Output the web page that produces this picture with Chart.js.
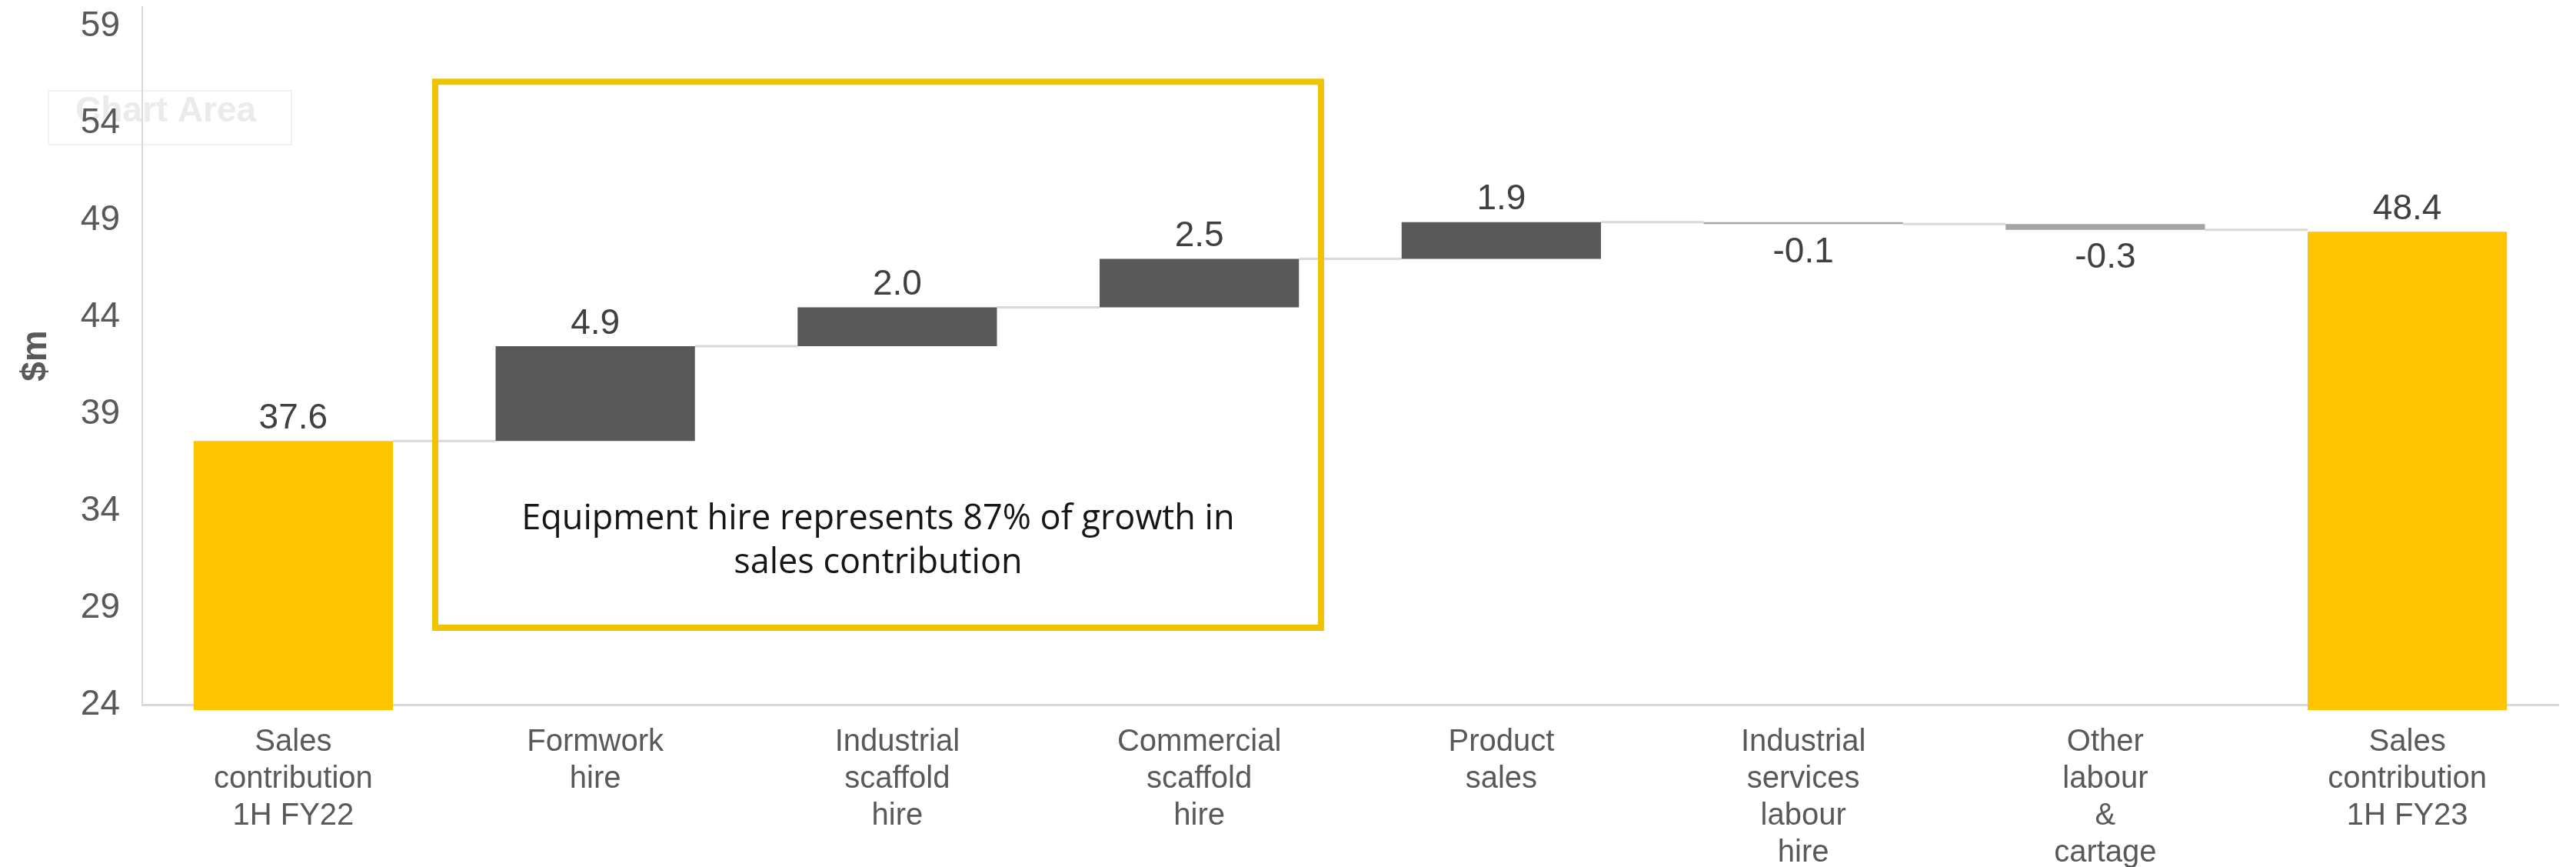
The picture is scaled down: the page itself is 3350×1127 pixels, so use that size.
<!DOCTYPE html>
<html>
<head>
<meta charset="utf-8">
<script src="https://cdn.jsdelivr.net/npm/chart.js@4/dist/chart.umd.min.js"></script>
<style>
  html, body { margin: 0; padding: 0; background: #fff; }
  #bridgeChart { display: block; }
</style>
</head>
<body>
<canvas id="bridgeChart" width="3350" height="1127"></canvas>
<script>
// sales contribution bridge, $m
const categories = [
    ["Sales", "contribution", "1H FY22"],
    ["Formwork", "hire"],
    ["Industrial", "scaffold", "hire"],
    ["Commercial", "scaffold", "hire"],
    ["Product", "sales"],
    ["Industrial", "services", "labour", "hire"],
    ["Other", "labour", "&", "cartage"],
    ["Sales", "contribution", "1H FY23"]
];
const changes = [37.6, 4.9, 2.0, 2.5, 1.9, -0.1, -0.3, 48.4];
const barKinds = ["total", "step", "step", "step", "step", "step", "step", "total"];
const yTickValues = [24, 29, 34, 39, 44, 49, 54, 59];
const yMin = 24;
const yMax = 60;

const noteLines = ["Equipment hire represents 87% of growth in", "sales contribution"];

const COLORS = {
    total: "#FFC600",
    rise: "#595959",
    fall: "#A5A5A5",
    connector: "#D9D9D9",
    axisText: "#595959",
    valueText: "#404040",
    box: "#F0C300"
};

function buildBridge() {
    const ranges = [];
    const levels = [];
    let level = 0;
    changes.forEach((v, i) => {
        if (barKinds[i] === "total") {
            ranges.push([0, v]);
            level = v;
        } else {
            const next = Math.round((level + v) * 10) / 10;
            ranges.push([level, next]);
            level = next;
        }
        levels.push(level);
    });
    return { ranges, levels };
}

const bridge = buildBridge();
const barColors = changes.map((v, i) =>
    barKinds[i] === "total" ? COLORS.total : (v < 0 ? COLORS.fall : COLORS.rise));

// faded "Chart Area" hover tag, sits underneath the axis text
const chartAreaTagPlugin = {
    id: "chartAreaTag",
    beforeDraw(chart) {
        const ctx = chart.ctx;
        ctx.save();
        ctx.strokeStyle = "#f2f2f2";
        ctx.lineWidth = 2;
        ctx.strokeRect(63, 118, 316, 70);
        ctx.fillStyle = "#ebebeb";
        ctx.font = "bold 46px 'Liberation Sans', Arial, sans-serif";
        ctx.textAlign = "left";
        ctx.textBaseline = "middle";
        ctx.fillText("Chart Area", 98, 145);
        ctx.restore();
    }
};

// thin grey steps between neighbouring bars
const connectorPlugin = {
    id: "connectors",
    beforeDatasetsDraw(chart) {
        const ctx = chart.ctx;
        const bars = chart.getDatasetMeta(0).data;
        const y = chart.scales.y;
        ctx.save();
        ctx.strokeStyle = COLORS.connector;
        ctx.lineWidth = 3;
        for (let i = 0; i < bars.length - 1; i++) {
            const py = y.getPixelForValue(bridge.levels[i]);
            ctx.beginPath();
            ctx.moveTo(bars[i].x + bars[i].width / 2, py);
            ctx.lineTo(bars[i + 1].x - bars[i + 1].width / 2, py);
            ctx.stroke();
        }
        ctx.restore();
    }
};

// value above rising bars, below falling ones
const valueLabelPlugin = {
    id: "valueLabels",
    afterDatasetsDraw(chart) {
        const ctx = chart.ctx;
        const bars = chart.getDatasetMeta(0).data;
        ctx.save();
        ctx.font = "46px 'Liberation Sans', Arial, sans-serif";
        ctx.fillStyle = COLORS.valueText;
        ctx.textAlign = "center";
        ctx.textBaseline = "middle";
        bars.forEach((bar, i) => {
            const v = changes[i];
            const top = Math.min(bar.y, bar.base);
            const bottom = Math.max(bar.y, bar.base);
            const ty = v < 0 ? bottom + 37 : top - 29;
            ctx.fillText(v.toFixed(1), bar.x, ty);
        });
        ctx.restore();
    }
};

// call-out box over the equipment hire bars
const calloutPlugin = {
    id: "callout",
    afterDraw(chart) {
        const ctx = chart.ctx;
        const xs = chart.scales.x;
        const ys = chart.scales.y;
        const left = xs.getPixelForValue(0.47);
        const right = xs.getPixelForValue(3.403);
        const top = ys.getPixelForValue(56.14);
        const bottom = ys.getPixelForValue(27.97);

        ctx.save();
        ctx.strokeStyle = COLORS.box;
        ctx.lineWidth = 8;
        ctx.strokeRect(left, top, right - left, bottom - top);

        ctx.fillStyle = "#161616";
        ctx.font = "45px 'Open Sans', sans-serif";
        ctx.textAlign = "center";
        ctx.textBaseline = "alphabetic";
        const cx = (left + right) / 2;
        ctx.fillText(noteLines[0], cx, bottom - 128);
        ctx.fillText(noteLines[1], cx, bottom - 71);
        ctx.restore();
    }
};

const ctx = document.getElementById("bridgeChart");

new Chart(ctx, {
    type: "bar",
    data: {
        labels: categories,
        datasets: [{
            data: bridge.ranges,
            backgroundColor: barColors,
            borderWidth: 0,
            categoryPercentage: 1,
            barPercentage: 0.66,
            clip: { left: 0, top: 0, right: 0, bottom: 7 }
        }]
    },
    options: {
        responsive: false,
        animation: false,
        layout: { padding: { top: 9, right: 23, bottom: 0, left: 0 } },
        plugins: {
            legend: { display: false },
            tooltip: { enabled: false }
        },
        scales: {
            x: {
                z: 1,
                grid: { display: false, drawTicks: false },
                border: { display: true, color: "rgba(191,191,191,0.6)", width: 3 },
                ticks: {
                    color: COLORS.axisText,
                    font: { family: "'Liberation Sans', Arial, sans-serif", size: 40, lineHeight: 1.2 },
                    padding: 25,
                    autoSkip: false,
                    maxRotation: 0
                },
                afterFit(scale) { scale.height = 211; }
            },
            y: {
                min: yMin,
                max: yMax,
                grid: { display: false, drawTicks: false },
                border: { display: true, color: "#D9D9D9", width: 2 },
                ticks: {
                    color: COLORS.axisText,
                    font: { family: "'Liberation Sans', Arial, sans-serif", size: 46 },
                    padding: 29
                },
                afterBuildTicks(scale) {
                    scale.ticks = yTickValues.map(v => ({ value: v }));
                },
                title: {
                    display: true,
                    text: "$m",
                    color: COLORS.axisText,
                    font: { family: "'Liberation Sans', Arial, sans-serif", size: 46, weight: "bold" },
                    padding: { top: 20, bottom: 0 }
                },
                afterFit(scale) {
                    scale.width = 185;
                    scale.paddingTop = 0;
                    scale.paddingBottom = 0;
                }
            }
        }
    },
    plugins: [chartAreaTagPlugin, connectorPlugin, valueLabelPlugin, calloutPlugin]
});
</script>
</body>
</html>
